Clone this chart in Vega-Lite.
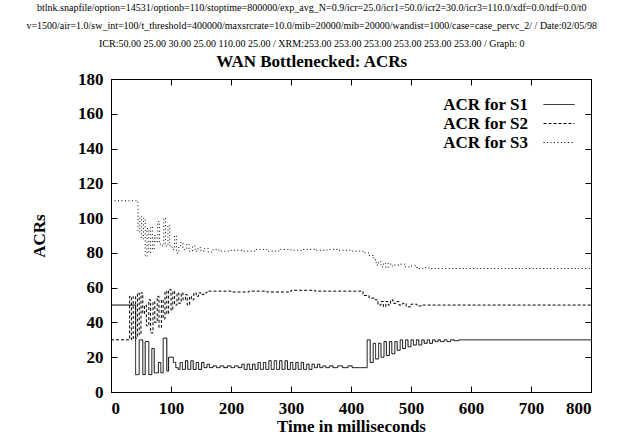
{
  "$schema": "https://vega.github.io/schema/vega-lite/v6.json",
  "autosize": {"type": "none"},
  "padding": {"left": 111, "top": 79, "right": 28, "bottom": 51},
  "width": 480,
  "height": 313,
  "background": "white",
  "title": {
    "text": [
      "btlnk.snapfile/option=14531/optionb=110/stoptime=800000/exp_avg_N=0.9/icr=25.0/icr1=50.0/icr2=30.0/icr3=110.0/xdf=0.0/tdf=0.0/t0",
      "v=1500/air=1.0/sw_int=100/t_threshold=400000/maxsrcrate=10.0/mib=20000/mib=20000/wandist=1000/case=case_pervc_2/ / Date:02/05/98",
      "ICR:50.00 25.00 30.00 25.00 110.00 25.00 / XRM:253.00 253.00 253.00 253.00 253.00 253.00 / Graph: 0"
    ],
    "subtitle": "WAN Bottlenecked: ACRs",
    "anchor": "middle",
    "frame": "bounds",
    "font": "Liberation Serif",
    "fontSize": 10,
    "fontWeight": "normal",
    "lineHeight": 18,
    "color": "black",
    "subtitleFont": "Liberation Serif",
    "subtitleFontSize": 17,
    "subtitleFontWeight": "bold",
    "subtitleColor": "black",
    "subtitlePadding": 5,
    "offset": 0
  },
  "config": {
    "view": {"stroke": "black", "strokeWidth": 1},
    "axis": {
      "grid": false,
      "domain": false,
      "labelFont": "Liberation Serif",
      "labelFontSize": 17,
      "labelFontWeight": "bold",
      "labelColor": "black",
      "titleFont": "Liberation Serif",
      "titleFontSize": 17,
      "titleFontWeight": "bold",
      "titleColor": "black",
      "tickColor": "black",
      "tickSize": -6,
      "tickWidth": 1
    },
    "legend": {
      "title": null,
      "orient": "none",
      "legendX": 437.5,
      "legendY": 15,
      "symbolType": "M-1.55,0L1.55,0",
      "symbolSize": 400,
      "symbolStrokeWidth": 1,
      "symbolStrokeColor": "black",
      "labelAlign": "right",
      "labelOffset": -41.5,
      "labelFont": "Liberation Serif",
      "labelFontSize": 17,
      "labelFontWeight": "bold",
      "labelColor": "black",
      "rowPadding": 0
    }
  },
  "data": {
    "values": [
      {"s": "ACR for S1", "t": 0, "v": 50},
      {"s": "ACR for S1", "t": 41, "v": 10},
      {"s": "ACR for S1", "t": 47, "v": 30},
      {"s": "ACR for S1", "t": 53, "v": 10},
      {"s": "ACR for S1", "t": 57, "v": 29},
      {"s": "ACR for S1", "t": 63, "v": 10},
      {"s": "ACR for S1", "t": 68, "v": 25},
      {"s": "ACR for S1", "t": 72, "v": 11},
      {"s": "ACR for S1", "t": 79, "v": 17},
      {"s": "ACR for S1", "t": 83, "v": 11},
      {"s": "ACR for S1", "t": 87, "v": 31},
      {"s": "ACR for S1", "t": 93, "v": 12},
      {"s": "ACR for S1", "t": 96, "v": 20},
      {"s": "ACR for S1", "t": 104, "v": 17},
      {"s": "ACR for S1", "t": 108, "v": 14},
      {"s": "ACR for S1", "t": 112, "v": 13},
      {"s": "ACR for S1", "t": 115, "v": 17},
      {"s": "ACR for S1", "t": 119, "v": 13},
      {"s": "ACR for S1", "t": 124, "v": 18},
      {"s": "ACR for S1", "t": 128, "v": 13},
      {"s": "ACR for S1", "t": 133, "v": 18},
      {"s": "ACR for S1", "t": 137, "v": 13},
      {"s": "ACR for S1", "t": 142, "v": 17},
      {"s": "ACR for S1", "t": 146, "v": 13},
      {"s": "ACR for S1", "t": 151, "v": 17},
      {"s": "ACR for S1", "t": 155, "v": 14},
      {"s": "ACR for S1", "t": 160, "v": 16},
      {"s": "ACR for S1", "t": 164, "v": 14},
      {"s": "ACR for S1", "t": 170, "v": 15},
      {"s": "ACR for S1", "t": 176, "v": 14},
      {"s": "ACR for S1", "t": 182, "v": 15},
      {"s": "ACR for S1", "t": 188, "v": 14},
      {"s": "ACR for S1", "t": 194, "v": 15},
      {"s": "ACR for S1", "t": 200, "v": 14},
      {"s": "ACR for S1", "t": 206, "v": 15},
      {"s": "ACR for S1", "t": 212, "v": 14},
      {"s": "ACR for S1", "t": 218, "v": 16},
      {"s": "ACR for S1", "t": 222, "v": 13},
      {"s": "ACR for S1", "t": 227, "v": 16},
      {"s": "ACR for S1", "t": 231, "v": 13},
      {"s": "ACR for S1", "t": 236, "v": 16},
      {"s": "ACR for S1", "t": 240, "v": 13},
      {"s": "ACR for S1", "t": 245, "v": 17},
      {"s": "ACR for S1", "t": 249, "v": 13},
      {"s": "ACR for S1", "t": 254, "v": 17},
      {"s": "ACR for S1", "t": 258, "v": 13},
      {"s": "ACR for S1", "t": 263, "v": 18},
      {"s": "ACR for S1", "t": 267, "v": 13},
      {"s": "ACR for S1", "t": 272, "v": 18},
      {"s": "ACR for S1", "t": 276, "v": 13},
      {"s": "ACR for S1", "t": 281, "v": 18},
      {"s": "ACR for S1", "t": 285, "v": 13},
      {"s": "ACR for S1", "t": 290, "v": 18},
      {"s": "ACR for S1", "t": 294, "v": 13},
      {"s": "ACR for S1", "t": 299, "v": 17},
      {"s": "ACR for S1", "t": 303, "v": 13},
      {"s": "ACR for S1", "t": 308, "v": 17},
      {"s": "ACR for S1", "t": 312, "v": 13},
      {"s": "ACR for S1", "t": 317, "v": 17},
      {"s": "ACR for S1", "t": 321, "v": 13},
      {"s": "ACR for S1", "t": 326, "v": 16},
      {"s": "ACR for S1", "t": 330, "v": 13},
      {"s": "ACR for S1", "t": 335, "v": 16},
      {"s": "ACR for S1", "t": 339, "v": 14},
      {"s": "ACR for S1", "t": 344, "v": 16},
      {"s": "ACR for S1", "t": 348, "v": 14},
      {"s": "ACR for S1", "t": 353, "v": 15},
      {"s": "ACR for S1", "t": 358, "v": 14},
      {"s": "ACR for S1", "t": 364, "v": 15},
      {"s": "ACR for S1", "t": 370, "v": 14},
      {"s": "ACR for S1", "t": 378, "v": 15},
      {"s": "ACR for S1", "t": 386, "v": 14},
      {"s": "ACR for S1", "t": 395, "v": 15},
      {"s": "ACR for S1", "t": 402, "v": 14},
      {"s": "ACR for S1", "t": 427, "v": 30},
      {"s": "ACR for S1", "t": 432, "v": 17},
      {"s": "ACR for S1", "t": 437, "v": 28},
      {"s": "ACR for S1", "t": 441, "v": 19},
      {"s": "ACR for S1", "t": 446, "v": 28},
      {"s": "ACR for S1", "t": 450, "v": 20},
      {"s": "ACR for S1", "t": 455, "v": 29},
      {"s": "ACR for S1", "t": 459, "v": 21},
      {"s": "ACR for S1", "t": 464, "v": 29},
      {"s": "ACR for S1", "t": 468, "v": 22},
      {"s": "ACR for S1", "t": 473, "v": 29},
      {"s": "ACR for S1", "t": 477, "v": 24},
      {"s": "ACR for S1", "t": 482, "v": 30},
      {"s": "ACR for S1", "t": 486, "v": 25},
      {"s": "ACR for S1", "t": 491, "v": 30},
      {"s": "ACR for S1", "t": 495, "v": 26},
      {"s": "ACR for S1", "t": 500, "v": 30},
      {"s": "ACR for S1", "t": 504, "v": 27},
      {"s": "ACR for S1", "t": 509, "v": 30},
      {"s": "ACR for S1", "t": 513, "v": 27},
      {"s": "ACR for S1", "t": 518, "v": 30},
      {"s": "ACR for S1", "t": 522, "v": 28},
      {"s": "ACR for S1", "t": 527, "v": 30},
      {"s": "ACR for S1", "t": 531, "v": 28},
      {"s": "ACR for S1", "t": 536, "v": 30},
      {"s": "ACR for S1", "t": 540, "v": 29},
      {"s": "ACR for S1", "t": 545, "v": 30},
      {"s": "ACR for S1", "t": 549, "v": 29},
      {"s": "ACR for S1", "t": 555, "v": 30},
      {"s": "ACR for S1", "t": 560, "v": 29},
      {"s": "ACR for S1", "t": 566, "v": 30},
      {"s": "ACR for S1", "t": 572, "v": 29.5},
      {"s": "ACR for S1", "t": 580, "v": 30},
      {"s": "ACR for S1", "t": 800, "v": 30},

      {"s": "ACR for S2", "t": 0, "v": 30},
      {"s": "ACR for S2", "t": 31, "v": 55},
      {"s": "ACR for S2", "t": 34, "v": 30},
      {"s": "ACR for S2", "t": 37, "v": 55},
      {"s": "ACR for S2", "t": 41, "v": 31},
      {"s": "ACR for S2", "t": 44, "v": 57},
      {"s": "ACR for S2", "t": 47, "v": 33},
      {"s": "ACR for S2", "t": 50, "v": 57},
      {"s": "ACR for S2", "t": 53, "v": 45},
      {"s": "ACR for S2", "t": 56, "v": 50},
      {"s": "ACR for S2", "t": 59, "v": 38},
      {"s": "ACR for S2", "t": 63, "v": 53},
      {"s": "ACR for S2", "t": 66, "v": 34},
      {"s": "ACR for S2", "t": 70, "v": 52},
      {"s": "ACR for S2", "t": 73, "v": 40},
      {"s": "ACR for S2", "t": 77, "v": 55},
      {"s": "ACR for S2", "t": 80, "v": 37},
      {"s": "ACR for S2", "t": 84, "v": 53},
      {"s": "ACR for S2", "t": 87, "v": 42},
      {"s": "ACR for S2", "t": 90, "v": 58},
      {"s": "ACR for S2", "t": 93, "v": 45},
      {"s": "ACR for S2", "t": 96, "v": 59},
      {"s": "ACR for S2", "t": 100, "v": 47},
      {"s": "ACR for S2", "t": 103, "v": 58},
      {"s": "ACR for S2", "t": 106, "v": 50},
      {"s": "ACR for S2", "t": 110, "v": 57},
      {"s": "ACR for S2", "t": 113, "v": 51},
      {"s": "ACR for S2", "t": 117, "v": 57},
      {"s": "ACR for S2", "t": 120, "v": 53},
      {"s": "ACR for S2", "t": 124, "v": 56},
      {"s": "ACR for S2", "t": 127, "v": 50},
      {"s": "ACR for S2", "t": 131, "v": 55},
      {"s": "ACR for S2", "t": 134, "v": 53},
      {"s": "ACR for S2", "t": 138, "v": 57},
      {"s": "ACR for S2", "t": 142, "v": 55},
      {"s": "ACR for S2", "t": 146, "v": 57},
      {"s": "ACR for S2", "t": 150, "v": 56},
      {"s": "ACR for S2", "t": 155, "v": 57},
      {"s": "ACR for S2", "t": 160, "v": 58},
      {"s": "ACR for S2", "t": 200, "v": 57.5},
      {"s": "ACR for S2", "t": 230, "v": 58},
      {"s": "ACR for S2", "t": 260, "v": 57.5},
      {"s": "ACR for S2", "t": 300, "v": 58.5},
      {"s": "ACR for S2", "t": 340, "v": 58},
      {"s": "ACR for S2", "t": 380, "v": 58},
      {"s": "ACR for S2", "t": 420, "v": 55.5},
      {"s": "ACR for S2", "t": 430, "v": 54},
      {"s": "ACR for S2", "t": 440, "v": 53},
      {"s": "ACR for S2", "t": 445, "v": 50},
      {"s": "ACR for S2", "t": 450, "v": 52},
      {"s": "ACR for S2", "t": 454, "v": 49},
      {"s": "ACR for S2", "t": 458, "v": 52},
      {"s": "ACR for S2", "t": 462, "v": 50},
      {"s": "ACR for S2", "t": 466, "v": 53},
      {"s": "ACR for S2", "t": 470, "v": 51},
      {"s": "ACR for S2", "t": 475, "v": 52},
      {"s": "ACR for S2", "t": 480, "v": 50},
      {"s": "ACR for S2", "t": 486, "v": 51},
      {"s": "ACR for S2", "t": 492, "v": 49},
      {"s": "ACR for S2", "t": 500, "v": 50.5},
      {"s": "ACR for S2", "t": 510, "v": 49.5},
      {"s": "ACR for S2", "t": 520, "v": 50},
      {"s": "ACR for S2", "t": 800, "v": 50},

      {"s": "ACR for S3", "t": 0, "v": 110},
      {"s": "ACR for S3", "t": 45, "v": 92},
      {"s": "ACR for S3", "t": 48, "v": 101},
      {"s": "ACR for S3", "t": 51, "v": 88},
      {"s": "ACR for S3", "t": 54, "v": 100},
      {"s": "ACR for S3", "t": 57, "v": 78},
      {"s": "ACR for S3", "t": 60, "v": 94},
      {"s": "ACR for S3", "t": 63, "v": 80},
      {"s": "ACR for S3", "t": 66, "v": 95},
      {"s": "ACR for S3", "t": 69, "v": 82},
      {"s": "ACR for S3", "t": 72, "v": 90},
      {"s": "ACR for S3", "t": 75, "v": 86},
      {"s": "ACR for S3", "t": 78, "v": 98},
      {"s": "ACR for S3", "t": 81, "v": 85},
      {"s": "ACR for S3", "t": 85, "v": 84},
      {"s": "ACR for S3", "t": 88, "v": 100},
      {"s": "ACR for S3", "t": 91, "v": 84},
      {"s": "ACR for S3", "t": 95, "v": 96},
      {"s": "ACR for S3", "t": 98, "v": 84},
      {"s": "ACR for S3", "t": 102, "v": 82},
      {"s": "ACR for S3", "t": 106, "v": 90},
      {"s": "ACR for S3", "t": 109, "v": 80},
      {"s": "ACR for S3", "t": 113, "v": 84},
      {"s": "ACR for S3", "t": 116, "v": 86},
      {"s": "ACR for S3", "t": 120, "v": 82},
      {"s": "ACR for S3", "t": 126, "v": 85},
      {"s": "ACR for S3", "t": 130, "v": 81},
      {"s": "ACR for S3", "t": 136, "v": 84},
      {"s": "ACR for S3", "t": 140, "v": 81},
      {"s": "ACR for S3", "t": 145, "v": 83},
      {"s": "ACR for S3", "t": 150, "v": 81},
      {"s": "ACR for S3", "t": 156, "v": 82.5},
      {"s": "ACR for S3", "t": 162, "v": 80.5},
      {"s": "ACR for S3", "t": 170, "v": 82},
      {"s": "ACR for S3", "t": 180, "v": 81},
      {"s": "ACR for S3", "t": 200, "v": 81.5},
      {"s": "ACR for S3", "t": 220, "v": 81},
      {"s": "ACR for S3", "t": 240, "v": 82},
      {"s": "ACR for S3", "t": 260, "v": 81},
      {"s": "ACR for S3", "t": 280, "v": 82},
      {"s": "ACR for S3", "t": 300, "v": 81.5},
      {"s": "ACR for S3", "t": 320, "v": 82},
      {"s": "ACR for S3", "t": 340, "v": 81.5},
      {"s": "ACR for S3", "t": 360, "v": 82},
      {"s": "ACR for S3", "t": 380, "v": 81.5},
      {"s": "ACR for S3", "t": 400, "v": 81},
      {"s": "ACR for S3", "t": 420, "v": 80},
      {"s": "ACR for S3", "t": 430, "v": 78.5},
      {"s": "ACR for S3", "t": 438, "v": 76},
      {"s": "ACR for S3", "t": 442, "v": 73},
      {"s": "ACR for S3", "t": 446, "v": 75},
      {"s": "ACR for S3", "t": 450, "v": 72},
      {"s": "ACR for S3", "t": 454, "v": 74},
      {"s": "ACR for S3", "t": 458, "v": 71.5},
      {"s": "ACR for S3", "t": 462, "v": 74},
      {"s": "ACR for S3", "t": 466, "v": 72.5},
      {"s": "ACR for S3", "t": 470, "v": 73},
      {"s": "ACR for S3", "t": 480, "v": 73.5},
      {"s": "ACR for S3", "t": 490, "v": 72},
      {"s": "ACR for S3", "t": 500, "v": 72.5},
      {"s": "ACR for S3", "t": 510, "v": 71},
      {"s": "ACR for S3", "t": 520, "v": 71.5},
      {"s": "ACR for S3", "t": 530, "v": 71},
      {"s": "ACR for S3", "t": 800, "v": 71}
    ]
  },
  "layer": [
    {
      "mark": {"type": "line", "interpolate": "step-after", "strokeWidth": 1},
      "encoding": {
        "x": {
          "field": "t", "type": "quantitative",
          "scale": {"domain": [0, 800], "nice": false, "zero": false},
          "axis": {"title": "Time in milliseconds", "values": [0, 100, 200, 300, 400, 500, 600, 700, 800], "labelPadding": 14, "titlePadding": 2}
        },
        "y": {
          "field": "v", "type": "quantitative",
          "scale": {"domain": [0, 180], "nice": false},
          "axis": {"title": "ACRs", "values": [0, 20, 40, 60, 80, 100, 120, 140, 160, 180], "labelPadding": 14, "titlePadding": 29}
        },
        "color": {
          "field": "s", "type": "nominal",
          "scale": {"domain": ["ACR for S1", "ACR for S2", "ACR for S3"], "range": ["black", "black", "black"]}
        },
        "strokeDash": {
          "field": "s", "type": "nominal",
          "scale": {"domain": ["ACR for S1", "ACR for S2", "ACR for S3"], "range": [[1, 0], [3, 2], [1, 2.5]]}
        }
      }
    },
    {
      "mark": {"type": "line", "opacity": 0},
      "encoding": {
        "x": {
          "field": "t", "type": "quantitative",
          "axis": {"orient": "top", "title": null, "labels": false, "values": [0, 100, 200, 300, 400, 500, 600, 700, 800]}
        },
        "y": {
          "field": "v", "type": "quantitative",
          "axis": {"orient": "right", "title": null, "labels": false, "values": [0, 20, 40, 60, 80, 100, 120, 140, 160, 180]}
        }
      }
    }
  ],
  "resolve": {"axis": {"x": "independent", "y": "independent"}}
}
